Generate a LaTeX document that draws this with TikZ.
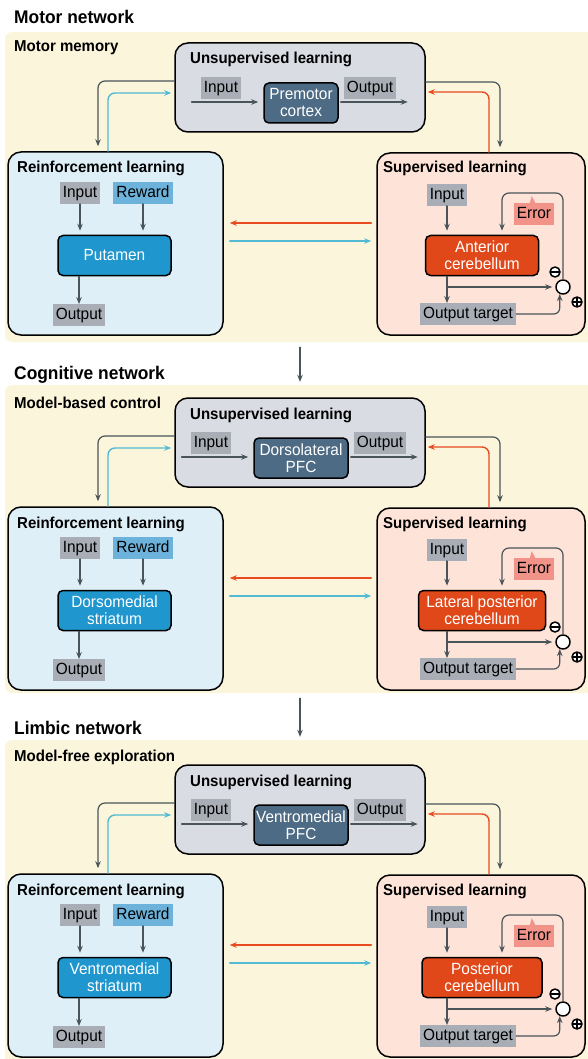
\documentclass[tikz,border=0pt]{standalone}
\usepackage{fontspec}
\setmainfont{Liberation Sans}[FakeStretch=0.95]
\usetikzlibrary{arrows.meta,calc,fit}
\definecolor{cream}{HTML}{FBF5DC}
\definecolor{unsup}{HTML}{DADCE4}
\definecolor{labgrey}{HTML}{A9AEB6}
\definecolor{rwd}{HTML}{6CB2DA}
\definecolor{rlc}{HTML}{DFEFF7}
\definecolor{slc}{HTML}{FDE3D8}
\definecolor{ctxc}{HTML}{4E6B85}
\definecolor{strc}{HTML}{1F96CD}
\definecolor{cerc}{HTML}{E04819}
\definecolor{errc}{HTML}{F29389}
\definecolor{dgrey}{HTML}{4A5559}
\definecolor{redc}{HTML}{E84A22}
\definecolor{cyanc}{HTML}{52BAD2}

\begin{document}
\begin{tikzpicture}[x=1pt,y=-1pt,line join=round,line cap=round,>={Stealth[length=7pt,width=5.5pt]}]

	\tikzset{
		txt/.style={font=\fontsize{16.2}{17}\selectfont},
		hd/.style={font=\bfseries\fontsize{15.8}{16}\selectfont, anchor=base west, inner sep=0},
		ttl/.style={font=\bfseries\fontsize{18.3}{20}\selectfont, anchor=base west, inner sep=0},
		panel/.style={fill=cream, rounded corners=7, inner sep=0},
		grp/.style={draw, line width=1.5, rounded corners=13, inner sep=0},
		core/.style={txt, draw, line width=1.5, rounded corners=5, text=white, align=center, minimum height=40, inner sep=0},
		lbl/.style={txt, fill=labgrey, inner xsep=3, inner ysep=3, text height=11.8, text depth=3.6},
		sgn/.style={circle, draw, line width=1.5, minimum size=10, inner sep=0, fill=white},
		arr/.style={->, draw=dgrey, line width=1.2},
		redarr/.style={->, draw=redc, line width=1.4},
		cyanarr/.style={->, draw=cyanc, line width=1.4}
	}

	\useasboundingbox (0,0) rectangle (587,1059);

	\foreach \i/\dy/\ptop/\pbot/\tb/\sb/\ttext/\sub/\nctx/\cw/\nstr/\ncer/\cbw in {
		1/0/32/342/24/52/{Motor network}/{Motor memory}/{Premotor\\cortex}/74/{Putamen}/{Anterior\\cerebellum}/113,
		2/355/385/693/379/408/{Cognitive network}/{Model-based control}/{Dorsolateral\\PFC}/94/{Dorsomedial\\striatum}/{Lateral posterior\\cerebellum}/127,
		3/722/740/1070/734/761/{Limbic network}/{Model-free exploration}/{Ventromedial\\PFC}/94/{Ventromedial\\striatum}/{Posterior\\cerebellum}/120}
	{
		\node[panel, fit={(5,\ptop) (595,\pbot)}] (pan\i) {};
		\node[ttl] (t\i) at (14,\tb) {\ttext};
		\node[hd] (s\i) at (14,\sb) {\sub};

		\begin{scope}[shift={(0,\dy)}]
		% unsupervised
		\node[grp, fill=unsup, minimum width=250, minimum height=89] (ub\i) at (300,87.5) {};
		\node[hd] (ubt\i) at (190,64) {Unsupervised learning};
		\node[core, fill=ctxc, minimum width=\cw] (ctx\i) at (301,103) {\nctx};
		\node[lbl, anchor=east] (uin\i) at ($(ctx\i.west)+(-22,-15)$) {Input};
		\node[lbl, anchor=west] (uout\i) at ($(ctx\i.east)+(5,-15)$) {Output};
		\coordinate (ui\i) at ($(uin\i.west |- ctx\i.west)+(-9,-1)$);
		\coordinate (uo\i) at ($(ctx\i.east)+(69,-1)$);
		\draw[arr, shorten >=5] (ui\i) -- (ui\i -| ctx\i.west);
		\draw[arr, shorten <=2] (ctx\i.east |- uo\i) -- (uo\i);

		% reinforcement
		\node[grp, fill=rlc, minimum width=215, minimum height=183] (rl\i) at (115.5,243.5) {};
		\node[hd] (rlt\i) at (17,173) {Reinforcement learning};
		\node[lbl] (rin\i) at (80,193) {Input};
		\node[lbl, fill=rwd] (rrw\i) at (143,193) {Reward};
		\node[core, fill=strc, minimum width=113] (str\i) at (114.5,255.5) {\nstr};
		\node[lbl] (rout\i) at (79,315) {Output};
		\draw[arr, shorten >=4] (rin\i) -- (rin\i |- str\i.north);
		\draw[arr, shorten >=4] (rrw\i) -- (rrw\i |- str\i.north);
		\draw[arr] (rout\i |- str\i.south) -- (rout\i);

		% supervised
		\node[grp, fill=slc, minimum width=208, minimum height=182] (sl\i) at (481,244) {};
		\node[hd] (slt\i) at (383,173) {Supervised learning};
		\node[lbl] (sin\i) at (447,195) {Input};
		\node[core, fill=cerc, minimum width=\cbw] (cer\i) at (482,255.5) {\ncer};
		\node[lbl, fill=errc] (err\i) at (534,214) {Error};
		\fill[errc] ($(err\i.north west)+(16,0.5)$) -- ($(err\i.north west)+(18,-7)$) -- ($(err\i.north west)+(22,0.5)$) -- cycle;
		\node[lbl] (sout\i) at (468,314) {Output target};
		\node[circle, draw, line width=1.5, minimum size=14, inner sep=0, fill=white] (cmp\i) at (563,287) {};
		\node[sgn] (mns\i) at (555,272) {};
		\node[sgn] (pls\i) at (577,302) {};
		\draw[line width=1.5] ([xshift=2]mns\i.west) -- ([xshift=-2]mns\i.east);
		\draw[line width=1.5] ([xshift=2]pls\i.west) -- ([xshift=-2]pls\i.east);
		\draw[line width=1.5] ([yshift=-2]pls\i.north) -- ([yshift=2]pls\i.south);
		\coordinate (fb\i) at (502,193);
		\draw[arr, shorten >=4] (sin\i) -- (sin\i |- cer\i.north);
		\draw[arr] (sin\i |- cer\i.south) -- (sin\i |- sout\i.north);
		\draw[arr, shorten >=3] (sin\i |- cmp\i.west) -- (cmp\i.west);
		\draw[arr, rounded corners=7, shorten >=4] (cmp\i.north) |- (fb\i) -- (fb\i |- cer\i.north);
		\draw[arr, rounded corners=6] (sout\i.east) -| (cmp\i.-115);

		% links
		\draw[arr, rounded corners=7, shorten >=5] ([yshift=6.5]ub\i.west) -| ([xshift=-17.5]rl\i.north);
		\draw[cyanarr, rounded corners=7, shorten >=3] ([xshift=-7.5]rl\i.north) |- ([yshift=-5.5]ub\i.west);
		\draw[arr, rounded corners=7, shorten >=5] ([yshift=5.5]ub\i.east) -| ([xshift=19]sl\i.north);
		\draw[redarr, rounded corners=7, shorten >=2] ([xshift=8]sl\i.north) |- ([yshift=-4.5]ub\i.east);
		\draw[redarr, shorten <=5, shorten >=6] ([yshift=21]sl\i.west) -- ([yshift=20.5]rl\i.east);
		\draw[cyanarr, shorten <=6, shorten >=5] ([yshift=2.5]rl\i.east) -- ([yshift=3]sl\i.west);
		\end{scope}
	}

	\foreach \a/\b in {1/2,2/3}
	\draw[arr, shorten <=5, shorten >=3] (pan\a.south) -- (pan\b.north);
\end{tikzpicture}
\end{document}
